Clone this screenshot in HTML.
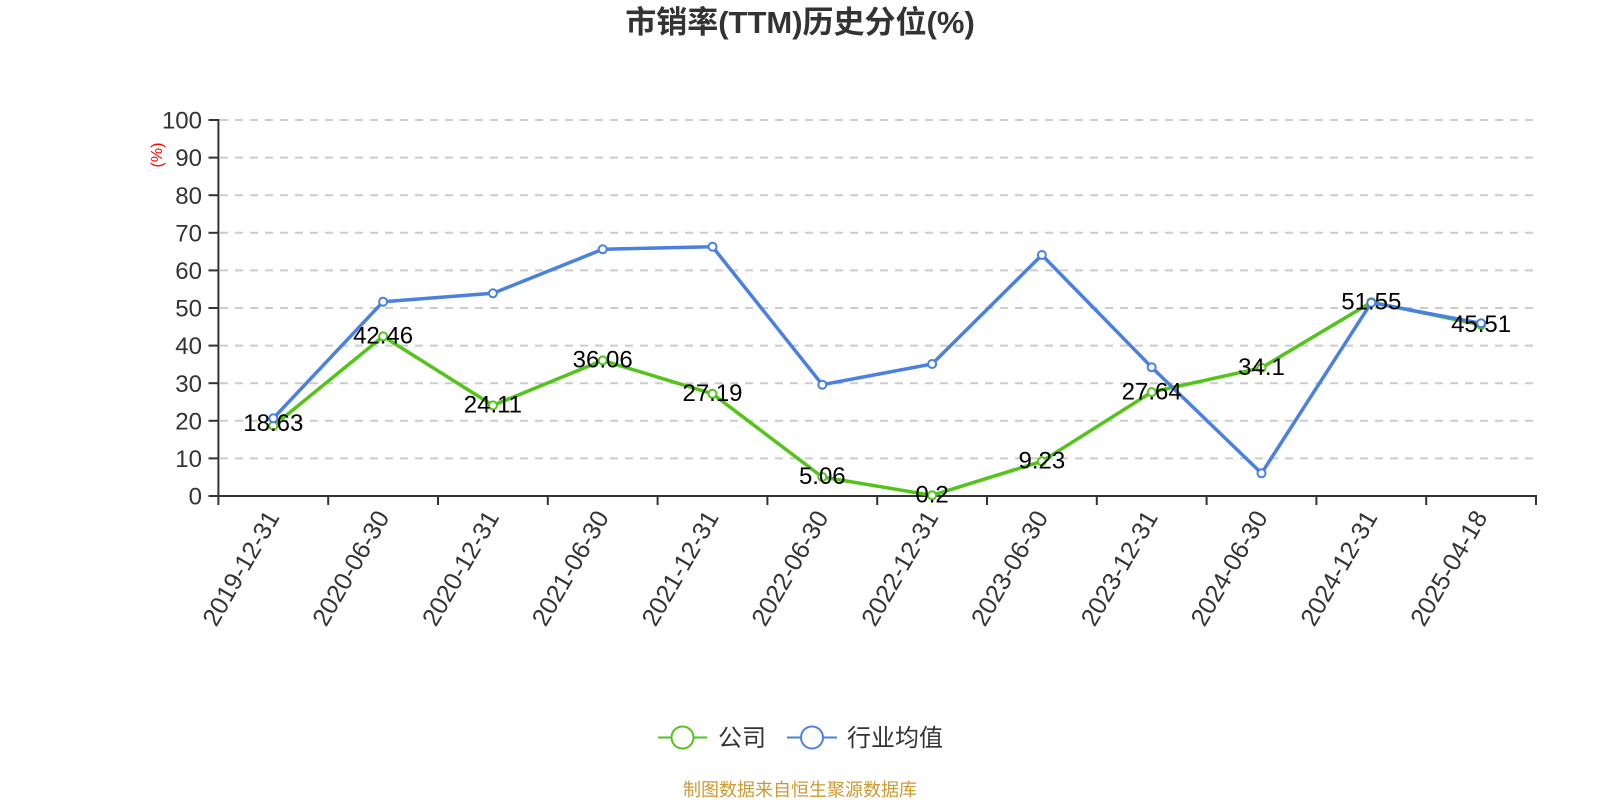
<!DOCTYPE html>
<html>
<head>
<meta charset="utf-8">
<style>
html,body{margin:0;padding:0;background:#fff;}
svg{display:block;}
text{font-family:"Liberation Sans","Noto Sans CJK SC",sans-serif;}
</style>
</head>
<body>
<svg width="1600" height="800" viewBox="0 0 1600 800" xmlns="http://www.w3.org/2000/svg">
<rect width="1600" height="800" fill="#fff"/>
<!-- title -->
<text x="800" y="33" text-anchor="middle" font-size="31" font-weight="bold" fill="#333">市销率(TTM)历史分位(%)</text>

<!-- grid -->
<g stroke="#cccccc" stroke-width="2" stroke-dasharray="8,7" fill="none">
<line x1="220" y1="458.4" x2="1536" y2="458.4"/>
<line x1="220" y1="420.8" x2="1536" y2="420.8"/>
<line x1="220" y1="383.2" x2="1536" y2="383.2"/>
<line x1="220" y1="345.6" x2="1536" y2="345.6"/>
<line x1="220" y1="308" x2="1536" y2="308"/>
<line x1="220" y1="270.4" x2="1536" y2="270.4"/>
<line x1="220" y1="232.8" x2="1536" y2="232.8"/>
<line x1="220" y1="195.2" x2="1536" y2="195.2"/>
<line x1="220" y1="157.6" x2="1536" y2="157.6"/>
<line x1="220" y1="120" x2="1536" y2="120"/>
</g>

<!-- axes -->
<g stroke="#333" stroke-width="2" fill="none">
<line x1="218.4" y1="119" x2="218.4" y2="497"/>
<line x1="217.4" y1="496" x2="1537" y2="496"/>
<line x1="208.5" y1="496" x2="218.4" y2="496"/>
<line x1="208.5" y1="458.4" x2="218.4" y2="458.4"/>
<line x1="208.5" y1="420.8" x2="218.4" y2="420.8"/>
<line x1="208.5" y1="383.2" x2="218.4" y2="383.2"/>
<line x1="208.5" y1="345.6" x2="218.4" y2="345.6"/>
<line x1="208.5" y1="308" x2="218.4" y2="308"/>
<line x1="208.5" y1="270.4" x2="218.4" y2="270.4"/>
<line x1="208.5" y1="232.8" x2="218.4" y2="232.8"/>
<line x1="208.5" y1="195.2" x2="218.4" y2="195.2"/>
<line x1="208.5" y1="157.6" x2="218.4" y2="157.6"/>
<line x1="208.5" y1="120" x2="218.4" y2="120"/>
<line x1="218.4" y1="496" x2="218.4" y2="505"/>
<line x1="328.2" y1="496" x2="328.2" y2="505"/>
<line x1="438" y1="496" x2="438" y2="505"/>
<line x1="547.8" y1="496" x2="547.8" y2="505"/>
<line x1="657.6" y1="496" x2="657.6" y2="505"/>
<line x1="767.4" y1="496" x2="767.4" y2="505"/>
<line x1="877.2" y1="496" x2="877.2" y2="505"/>
<line x1="987" y1="496" x2="987" y2="505"/>
<line x1="1096.8" y1="496" x2="1096.8" y2="505"/>
<line x1="1206.6" y1="496" x2="1206.6" y2="505"/>
<line x1="1316.4" y1="496" x2="1316.4" y2="505"/>
<line x1="1426.2" y1="496" x2="1426.2" y2="505"/>
<line x1="1536" y1="496" x2="1536" y2="505"/>
</g>

<!-- y labels -->
<g font-size="24" fill="#333" text-anchor="end">
<text x="202" y="504.6">0</text>
<text x="202" y="467">10</text>
<text x="202" y="429.4">20</text>
<text x="202" y="391.8">30</text>
<text x="202" y="354.2">40</text>
<text x="202" y="316.6">50</text>
<text x="202" y="279">60</text>
<text x="202" y="241.4">70</text>
<text x="202" y="203.8">80</text>
<text x="202" y="166.2">90</text>
<text x="202" y="128.6">100</text>
</g>
<text transform="translate(156.5,155) rotate(-90)" text-anchor="middle" y="5.5" font-size="16" fill="#ff0000">(%)</text>

<!-- x labels -->
<g font-size="25" fill="#333" text-anchor="end">
<text transform="translate(273.3,513) rotate(-60)" y="8">2019-12-31</text>
<text transform="translate(383.1,513) rotate(-60)" y="8">2020-06-30</text>
<text transform="translate(492.9,513) rotate(-60)" y="8">2020-12-31</text>
<text transform="translate(602.7,513) rotate(-60)" y="8">2021-06-30</text>
<text transform="translate(712.5,513) rotate(-60)" y="8">2021-12-31</text>
<text transform="translate(822.3,513) rotate(-60)" y="8">2022-06-30</text>
<text transform="translate(932.1,513) rotate(-60)" y="8">2022-12-31</text>
<text transform="translate(1041.9,513) rotate(-60)" y="8">2023-06-30</text>
<text transform="translate(1151.7,513) rotate(-60)" y="8">2023-12-31</text>
<text transform="translate(1261.5,513) rotate(-60)" y="8">2024-06-30</text>
<text transform="translate(1371.3,513) rotate(-60)" y="8">2024-12-31</text>
<text transform="translate(1481.1,513) rotate(-60)" y="8">2025-04-18</text>
</g>

<!-- green series -->
<polyline fill="none" stroke="#52c41a" stroke-width="3.5" stroke-linejoin="round"
points="273.3,425.9 383.1,336.4 492.9,405.4 602.7,360.4 712.5,393.8 822.3,477 932.1,495.3 1041.9,461.3 1151.7,392.1 1261.5,367.8 1371.3,302.2 1481.1,324.9"/>
<g fill="#fff" stroke="#52c41a" stroke-width="2">
<circle cx="273.3" cy="425.9" r="4"/>
<circle cx="383.1" cy="336.4" r="4"/>
<circle cx="492.9" cy="405.4" r="4"/>
<circle cx="602.7" cy="360.4" r="4"/>
<circle cx="712.5" cy="393.8" r="4"/>
<circle cx="822.3" cy="477" r="4"/>
<circle cx="932.1" cy="495.3" r="4"/>
<circle cx="1041.9" cy="461.3" r="4"/>
<circle cx="1151.7" cy="392.1" r="4"/>
<circle cx="1261.5" cy="367.8" r="4"/>
<circle cx="1371.3" cy="302.2" r="4"/>
<circle cx="1481.1" cy="324.9" r="4"/>
</g>

<!-- blue series -->
<polyline fill="none" stroke="#4a80e0" stroke-width="3.5" stroke-linejoin="round"
points="273.3,418.3 383.1,301.7 492.9,293.3 602.7,249.3 712.5,246.7 822.3,384.7 932.1,364 1041.9,255 1151.7,367.3 1261.5,473.3 1371.3,302.7 1481.1,323.3"/>
<g fill="#fff" stroke="#4a80e0" stroke-width="2">
<circle cx="273.3" cy="418.3" r="4"/>
<circle cx="383.1" cy="301.7" r="4"/>
<circle cx="492.9" cy="293.3" r="4"/>
<circle cx="602.7" cy="249.3" r="4"/>
<circle cx="712.5" cy="246.7" r="4"/>
<circle cx="822.3" cy="384.7" r="4"/>
<circle cx="932.1" cy="364" r="4"/>
<circle cx="1041.9" cy="255" r="4"/>
<circle cx="1151.7" cy="367.3" r="4"/>
<circle cx="1261.5" cy="473.3" r="4"/>
<circle cx="1371.3" cy="302.7" r="4"/>
<circle cx="1481.1" cy="323.3" r="4"/>
</g>

<!-- data labels -->
<g font-size="24" fill="#000" text-anchor="middle">
<text x="273.3" y="431">18.63</text>
<text x="383.1" y="343.5">42.46</text>
<text x="492.9" y="412.5">24.11</text>
<text x="602.7" y="367.5">36.06</text>
<text x="712.5" y="401">27.19</text>
<text x="822.3" y="484">5.06</text>
<text x="932.1" y="502.5">0.2</text>
<text x="1041.9" y="468.5">9.23</text>
<text x="1151.7" y="399.3">27.64</text>
<text x="1261.5" y="375">34.1</text>
<text x="1371.3" y="309.5">51.55</text>
<text x="1481.1" y="332">45.51</text>
</g>

<!-- legend -->
<line x1="658" y1="737.5" x2="707" y2="737.5" stroke="#52c41a" stroke-width="2"/>
<circle cx="682.5" cy="737.5" r="11" fill="#fff" stroke="#52c41a" stroke-width="2"/>
<text x="718" y="746" font-size="24" fill="#333">公司</text>
<line x1="787" y1="737.5" x2="837" y2="737.5" stroke="#4a80e0" stroke-width="2"/>
<circle cx="812" cy="737.5" r="11" fill="#fff" stroke="#4a80e0" stroke-width="2"/>
<text x="847" y="746" font-size="24" fill="#333">行业均值</text>

<!-- footer -->
<text x="800" y="796" text-anchor="middle" font-size="18" fill="#cc9933">制图数据来自恒生聚源数据库</text>
</svg>
</body>
</html>
